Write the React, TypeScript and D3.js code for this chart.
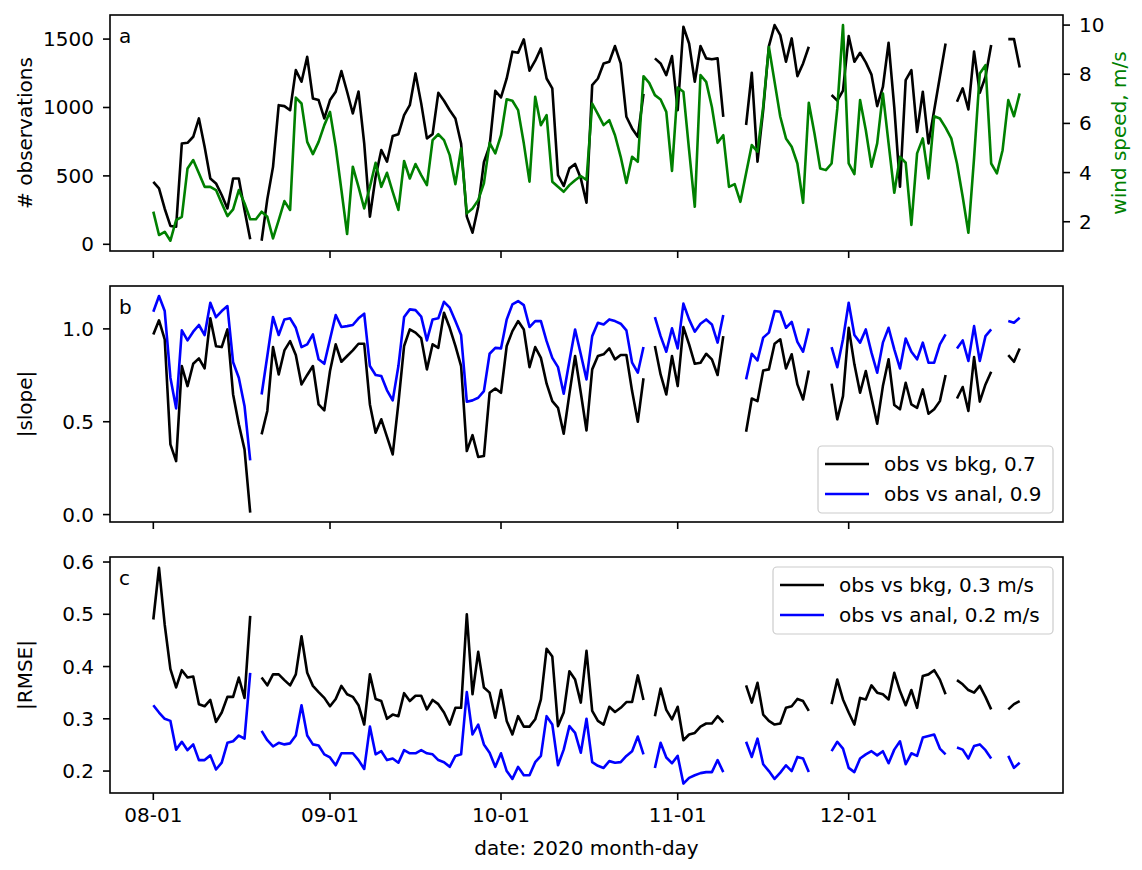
import React from 'react';
import * as d3 from 'd3';

// daily values, 2020-08-01 .. 2020-12-31 (null = no data that day)
const firstDay = new Date(Date.UTC(2020, 7, 1));
const dayAfterLast = new Date(Date.UTC(2021, 0, 1));

const obsCount: (number | null)[] = [
	457, 409, 260, 134, 128, 737, 742, 786, 920, 713,
	481, 445, 360, 262, 481, 481, 250, 36, null, 26,
	330, 566, 1017, 1010, 980, 1273, 1188, 1370, 1066, 1054,
	920, 1054, 1115, 1266, 1115, 956, 1117, 738, 202, 494,
	689, 604, 791, 805, 944, 1017, 1249, 1030, 774, 805,
	1107, 1049, 980, 920, 737, 202, 85, 275, 600, 720,
	1122, 1073, 1212, 1408, 1400, 1498, 1269, 1342, 1432, 1212,
	1139, 506, 426, 555, 587, 482, 304, 1163, 1212, 1322,
	1334, 1449, 1322, 932, 847, 786, 1100, null, 1359, 1322,
	1237, 1376, 981, 1590, 1468, 1188, 1449, 1359, 1352, 1359,
	932, null, null, null, 872, 1254, 604, 981, 1449, 1602,
	1529, 1334, 1505, 1229, 1322, 1444, null, null, null, 1091,
	1050, 1124, 1522, 1334, 1400, 1330, 1240, 1010, 1150, 1473,
	1000, 421, 1200, 1273, 822, 1115, 737, 980, 1224, 1468,
	null, 1042, 1140, 986, 1408, 1107, 1225, 1456, null, null,
	1500, 1500, 1293,
];

const windSpeed: number[] = [
	2.41, 1.46, 1.59, 1.23, 2.07, 2.2, 4.17, 4.51, 3.97, 3.42,
	3.42, 3.29, 2.75, 2.23, 2.5, 3.29, 2.75, 2.1, 2.1, 2.41,
	2.2, 1.32, 2.07, 2.84, 2.48, 7.05, 6.81, 5.25, 4.75, 5.25,
	5.93, 6.47, 5.05, 3.29, 1.5, 4.24, 3.42, 2.54, 3.42, 4.4,
	3.42, 3.99, 3.22, 2.48, 4.47, 3.76, 4.35, 3.9, 3.49, 5.32,
	5.56, 5.32, 4.71, 3.53, 4.98, 2.34, 2.54, 2.88, 3.56, 5.21,
	4.78, 5.52, 6.98, 6.92, 6.54, 5.19, 3.63, 7.08, 5.93, 6.34,
	3.63, 3.42, 3.22, 3.49, 3.69, 3.86, 3.7, 6.81, 6.38, 5.93,
	6.13, 5.52, 4.64, 3.58, 4.64, 4.44, 7.92, 7.65, 7.15, 6.97,
	6.47, 4.07, 7.46, 7.29, 4.91, 2.61, 7.97, 7.69, 6.67, 5.21,
	5.52, 3.42, 3.53, 2.81, 3.97, 5.12, 4.85, 6.68, 9.11, 7.69,
	6.27, 5.39, 5.05, 4.37, 2.77, 6.84, 5.59, 4.17, 4.1, 4.37,
	6.6, 10.0, 4.37, 3.94, 6.95, 5.73, 4.24, 5.19, 7.22, 5.19,
	3.18, 4.64, 4.4, 1.87, 4.78, 5.39, 3.76, 6.29, 6.2, 5.83,
	5.39, 4.37, 3.02, 1.55, 4.6, 8.03, 8.37, 4.37, 3.97, 4.91,
	6.95, 6.29, 7.22,
];

const slopeBkg: (number | null)[] = [
	0.97, 1.046, 0.944, 0.378, 0.288, 0.8, 0.692, 0.812, 0.841, 0.787,
	1.057, 0.907, 0.902, 0.997, 0.647, 0.486, 0.351, 0.01, null, 0.432,
	0.558, 0.902, 0.755, 0.884, 0.934, 0.859, 0.701, 0.752, 0.8, 0.593,
	0.561, 0.773, 0.917, 0.823, 0.854, 0.884, 0.92, 0.92, 0.593, 0.441,
	0.513, 0.418, 0.324, 0.6, 0.908, 0.997, 0.98, 0.95, 0.782, 0.917,
	0.898, 1.087, 1.006, 0.908, 0.8, 0.342, 0.428, 0.31, 0.315, 0.656,
	0.679, 0.656, 0.908, 0.988, 1.042, 0.997, 0.794, 0.902, 0.844, 0.705,
	0.611, 0.575, 0.435, 0.65, 0.854, 0.656, 0.453, 0.782, 0.854, 0.863,
	0.895, 0.836, 0.859, 0.859, 0.665, 0.5, 0.734, null, 0.908, 0.755,
	0.647, 0.854, 0.692, 1.01, 0.917, 0.812, 0.818, 0.866, 0.836, 0.752,
	0.961, null, null, null, 0.446, 0.625, 0.611, 0.776, 0.782, 0.92,
	0.944, 0.787, 0.863, 0.701, 0.62, 0.776, null, null, null, 0.705,
	0.513, 0.638, 1.006, 0.809, 0.656, 0.773, 0.629, 0.489, 0.692, 0.836,
	0.59, 0.567, 0.71, 0.593, 0.575, 0.674, 0.543, 0.567, 0.611, 0.752,
	null, 0.625, 0.687, 0.558, 0.848, 0.608, 0.701, 0.769, null, null,
	0.859, 0.823, 0.895,
];

const slopeAnal: (number | null)[] = [
	1.092, 1.177, 1.096, 0.737, 0.572, 0.992, 0.938, 0.985, 1.021, 0.967,
	1.141, 1.063, 1.096, 1.123, 0.82, 0.737, 0.585, 0.292, null, 0.647,
	0.854, 1.064, 0.967, 1.051, 1.057, 1.006, 0.902, 0.917, 0.97, 0.836,
	0.812, 0.944, 1.075, 1.01, 1.015, 1.021, 1.057, 1.082, 0.8, 0.752,
	0.746, 0.669, 0.615, 0.8, 1.064, 1.105, 1.101, 1.066, 0.938, 1.051,
	1.057, 1.146, 1.114, 1.042, 0.967, 0.608, 0.615, 0.629, 0.665, 0.866,
	0.898, 0.895, 1.051, 1.132, 1.15, 1.128, 1.01, 1.042, 1.042, 0.934,
	0.844, 0.794, 0.651, 0.827, 0.997, 0.863, 0.728, 0.961, 1.033, 1.024,
	1.051, 1.042, 1.028, 0.992, 0.818, 0.764, 0.902, null, 1.064, 0.961,
	0.877, 1.003, 0.895, 1.136, 1.051, 0.985, 1.028, 1.051, 1.024, 0.926,
	1.075, null, null, null, 0.728, 0.866, 0.83, 0.953, 0.98, 1.096,
	1.092, 1.006, 1.038, 0.93, 0.877, 1.003, null, null, null, 0.902,
	0.794, 0.944, 1.141, 0.967, 0.926, 0.997, 0.872, 0.764, 0.926, 1.006,
	0.89, 0.787, 0.948, 0.877, 0.836, 0.926, 0.818, 0.818, 0.917, 0.97,
	null, 0.895, 0.938, 0.827, 1.015, 0.827, 0.961, 0.997, null, null,
	1.042, 1.033, 1.06,
];

const rmseBkg: (number | null)[] = [
	0.49, 0.589, 0.48, 0.395, 0.36, 0.393, 0.379, 0.381, 0.328, 0.324,
	0.336, 0.294, 0.312, 0.342, 0.342, 0.379, 0.34, 0.497, null, 0.379,
	0.364, 0.385, 0.385, 0.374, 0.364, 0.385, 0.458, 0.388, 0.363, 0.351,
	0.34, 0.324, 0.338, 0.363, 0.347, 0.342, 0.326, 0.289, 0.385, 0.338,
	0.334, 0.3, 0.308, 0.305, 0.349, 0.334, 0.344, 0.344, 0.318, 0.336,
	0.328, 0.312, 0.289, 0.321, 0.321, 0.5, 0.347, 0.428, 0.36, 0.35,
	0.302, 0.355, 0.296, 0.27, 0.305, 0.285, 0.285, 0.299, 0.337, 0.434,
	0.419, 0.286, 0.312, 0.391, 0.375, 0.331, 0.43, 0.315, 0.296, 0.289,
	0.323, 0.313, 0.321, 0.332, 0.332, 0.383, 0.336, null, 0.305, 0.358,
	0.317, 0.299, 0.323, 0.259, 0.27, 0.273, 0.285, 0.291, 0.291, 0.305,
	0.293, null, null, null, 0.364, 0.331, 0.369, 0.308, 0.296, 0.289,
	0.291, 0.321, 0.324, 0.338, 0.334, 0.315, null, null, null, 0.328,
	0.375, 0.337, 0.312, 0.289, 0.34, 0.337, 0.364, 0.35, 0.347, 0.337,
	0.388, 0.353, 0.326, 0.355, 0.321, 0.382, 0.385, 0.393, 0.375, 0.347,
	null, 0.374, 0.366, 0.355, 0.35, 0.363, 0.342, 0.318, null, null,
	0.318, 0.328, 0.334,
];

const rmseAnal: (number | null)[] = [
	0.326, 0.312, 0.3, 0.296, 0.241, 0.256, 0.24, 0.251, 0.221, 0.221,
	0.23, 0.203, 0.216, 0.254, 0.257, 0.268, 0.262, 0.388, null, 0.277,
	0.259, 0.247, 0.254, 0.251, 0.253, 0.268, 0.326, 0.268, 0.251, 0.249,
	0.232, 0.226, 0.211, 0.234, 0.234, 0.234, 0.221, 0.204, 0.285, 0.232,
	0.238, 0.221, 0.224, 0.216, 0.24, 0.234, 0.234, 0.24, 0.234, 0.232,
	0.221, 0.217, 0.208, 0.229, 0.232, 0.351, 0.27, 0.289, 0.251, 0.235,
	0.208, 0.234, 0.2, 0.185, 0.208, 0.192, 0.192, 0.217, 0.229, 0.305,
	0.289, 0.211, 0.241, 0.286, 0.273, 0.235, 0.3, 0.217, 0.21, 0.206,
	0.219, 0.216, 0.217, 0.229, 0.238, 0.266, 0.232, null, 0.206, 0.254,
	0.226, 0.215, 0.229, 0.176, 0.187, 0.192, 0.196, 0.198, 0.198, 0.221,
	0.198, null, null, null, 0.256, 0.227, 0.262, 0.213, 0.2, 0.185,
	0.197, 0.211, 0.2, 0.227, 0.224, 0.198, null, null, null, 0.238,
	0.256, 0.243, 0.206, 0.198, 0.224, 0.232, 0.238, 0.23, 0.238, 0.215,
	0.241, 0.257, 0.213, 0.234, 0.229, 0.264, 0.267, 0.27, 0.243, 0.232,
	null, 0.245, 0.241, 0.224, 0.248, 0.251, 0.24, 0.224, null, null,
	0.229, 0.206, 0.216,
];

const obsTicks = [0, 500, 1000, 1500];
const windTicks = [2, 4, 6, 8, 10];
const slopeTicks = [0.0, 0.5, 1.0];
const rmseTicks = [0.2, 0.3, 0.4, 0.5, 0.6];
const slopeLegend = ['obs vs bkg, 0.7', 'obs vs anal, 0.9'];
const rmseLegend = ['obs vs bkg, 0.3 m/s', 'obs vs anal, 0.2 m/s'];

const W = 1142;
const H = 870;
const LEFT = 110;
const RIGHT = 1063;
const FONT = '"DejaVu Sans", sans-serif';
const FS = 20;
const TICK = 7;
const SPINE = 1.6;
const LW = 2.6;
const BLACK = '#000000';
const BLUE = '#0000ff';
const GREEN = '#008000';

const dates = d3.utcDay.range(firstDay, dayAfterLast);
const t0 = dates[0].getTime();
const t1 = dates[dates.length - 1].getTime();
const pad = (t1 - t0) * 0.05;
const x = d3.scaleUtc().domain([t0 - pad, t1 + pad]).range([LEFT, RIGHT]);
const monthTicks = d3.utcMonth.range(firstDay, dayAfterLast);
const fmt = d3.utcFormat('%m-%d');

const panelA = { top: 15, bottom: 251 };
const panelB = { top: 286, bottom: 522 };
const panelC = { top: 557, bottom: 793 };

const yObs = d3.scaleLinear().domain([-49, 1676]).range([panelA.bottom, panelA.top]);
const yWind = d3.scaleLinear().domain([0.81, 10.41]).range([panelA.bottom, panelA.top]);
const ySlope = d3.scaleLinear().domain([-0.04, 1.231]).range([panelB.bottom, panelB.top]);
const yRmse = d3.scaleLinear().domain([0.158, 0.6096]).range([panelC.bottom, panelC.top]);

const pathFor = (vals: (number | null)[], y: d3.ScaleLinear<number, number>) =>
	d3
		.line<number | null>()
		.defined((v) => v != null)
		.x((_, i) => x(dates[i]))
		.y((v) => y(v as number))(vals) || '';

type Panel = { top: number; bottom: number };

const XTicks = ({ p, labels }: { p: Panel; labels?: boolean }) => (
	<g>
		{monthTicks.map((d) => (
			<g key={d.getTime()}>
				<line x1={x(d)} x2={x(d)} y1={p.bottom} y2={p.bottom + TICK} stroke={BLACK} strokeWidth={SPINE} />
				{labels && (
					<text x={x(d)} y={p.bottom + 29} textAnchor="middle" fontSize={FS}>
						{fmt(d)}
					</text>
				)}
			</g>
		))}
	</g>
);

const YTicks = ({
	ticks,
	y,
	side,
	format,
}: {
	ticks: number[];
	y: d3.ScaleLinear<number, number>;
	side: 'left' | 'right';
	format: (v: number) => string;
}) => (
	<g>
		{ticks.map((t) => {
			const ty = y(t);
			const x0 = side === 'left' ? LEFT : RIGHT;
			const x1 = side === 'left' ? LEFT - TICK : RIGHT + TICK;
			return (
				<g key={t}>
					<line x1={x0} x2={x1} y1={ty} y2={ty} stroke={BLACK} strokeWidth={SPINE} />
					<text
						x={side === 'left' ? LEFT - 16 : RIGHT + 16}
						y={ty + 7}
						textAnchor={side === 'left' ? 'end' : 'start'}
						fontSize={FS}
					>
						{format(t)}
					</text>
				</g>
			);
		})}
	</g>
);

const Legend = ({
	x0,
	y0,
	w,
	labels,
	colors,
}: {
	x0: number;
	y0: number;
	w: number;
	labels: string[];
	colors: string[];
}) => (
	<g>
		<rect x={x0} y={y0} width={w} height={67} rx={4} fill="#fff" fillOpacity={0.8} stroke="#cccccc" strokeWidth={1.2} />
		{labels.map((l, i) => {
			const cy = y0 + 18 + i * 30;
			return (
				<g key={l}>
					<line x1={x0 + 7} x2={x0 + 51} y1={cy} y2={cy} stroke={colors[i]} strokeWidth={LW} />
					<text x={x0 + 66} y={cy + 7} fontSize={FS}>
						{l}
					</text>
				</g>
			);
		})}
	</g>
);

const Frame = ({ p }: { p: Panel }) => (
	<rect x={LEFT} y={p.top} width={RIGHT - LEFT} height={p.bottom - p.top} fill="none" stroke={BLACK} strokeWidth={SPINE} />
);

const ClipRect = ({ id, p }: { id: string; p: Panel }) => (
	<clipPath id={id}>
		<rect x={LEFT} y={p.top} width={RIGHT - LEFT} height={p.bottom - p.top} />
	</clipPath>
);

const YLabel = ({ text, cy, color = BLACK, bx = 32 }: { text: string; cy: number; color?: string; bx?: number }) => (
	<text transform={`translate(${bx},${cy}) rotate(-90)`} textAnchor="middle" fontSize={FS} fill={color}>
		{text}
	</text>
);

export default function App() {
	const lineProps = { fill: 'none', strokeWidth: LW, strokeLinejoin: 'round' as const };
	return (
		<svg
			width={W}
			height={H}
			viewBox={`0 0 ${W} ${H}`}
			style={{ position: 'absolute', left: 0, top: 0, background: '#fff' }}
			fontFamily={FONT}
		>
			<defs>
				<ClipRect id="clipA" p={panelA} />
				<ClipRect id="clipB" p={panelB} />
				<ClipRect id="clipC" p={panelC} />
			</defs>

			{/* a: observation count with wind speed on a twin axis */}
			<g clipPath="url(#clipA)">
				<path d={pathFor(obsCount, yObs)} stroke={BLACK} {...lineProps} />
				<path d={pathFor(windSpeed, yWind)} stroke={GREEN} {...lineProps} />
			</g>
			<Frame p={panelA} />
			<XTicks p={panelA} />
			<YTicks ticks={obsTicks} y={yObs} side="left" format={(v) => String(v)} />
			<YTicks ticks={windTicks} y={yWind} side="right" format={(v) => String(v)} />
			<YLabel text="# observations" cy={(panelA.top + panelA.bottom) / 2} />
			<YLabel text="wind speed, m/s" cy={(panelA.top + panelA.bottom) / 2} color={GREEN} bx={1126} />
			<text x={119} y={panelA.top + 28} fontSize={FS}>a</text>

			{/* b: |slope| */}
			<g clipPath="url(#clipB)">
				<path d={pathFor(slopeBkg, ySlope)} stroke={BLACK} {...lineProps} />
				<path d={pathFor(slopeAnal, ySlope)} stroke={BLUE} {...lineProps} />
			</g>
			<Frame p={panelB} />
			<XTicks p={panelB} />
			<YTicks ticks={slopeTicks} y={ySlope} side="left" format={d3.format('.1f')} />
			<YLabel text="|slope|" cy={(panelB.top + panelB.bottom) / 2} />
			<text x={119} y={panelB.top + 28} fontSize={FS}>b</text>
			<Legend x0={818} y0={446} w={235} labels={slopeLegend} colors={[BLACK, BLUE]} />

			{/* c: |RMSE| */}
			<g clipPath="url(#clipC)">
				<path d={pathFor(rmseBkg, yRmse)} stroke={BLACK} {...lineProps} />
				<path d={pathFor(rmseAnal, yRmse)} stroke={BLUE} {...lineProps} />
			</g>
			<Frame p={panelC} />
			<XTicks p={panelC} labels />
			<YTicks ticks={rmseTicks} y={yRmse} side="left" format={d3.format('.1f')} />
			<YLabel text="|RMSE|" cy={(panelC.top + panelC.bottom) / 2} />
			<text x={119} y={panelC.top + 28} fontSize={FS}>c</text>
			<Legend x0={773} y0={567} w={280} labels={rmseLegend} colors={[BLACK, BLUE]} />

			<text x={(LEFT + RIGHT) / 2} y={855} textAnchor="middle" fontSize={FS}>
				date: 2020 month-day
			</text>
		</svg>
	);
}
